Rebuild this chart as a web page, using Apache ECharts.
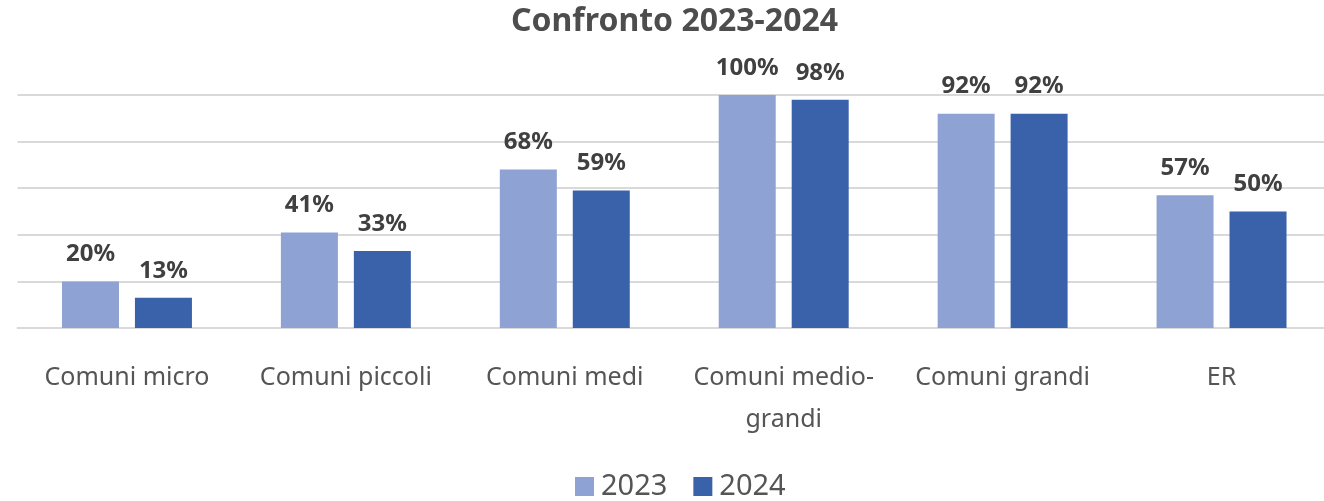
<!DOCTYPE html>
<html><head><meta charset="utf-8">
<script src="https://cdn.jsdelivr.net/npm/echarts@6/dist/echarts.min.js"></script>
<style>html,body{margin:0;padding:0;background:#fff}#c{width:1324px;height:501px}</style>
</head><body><div id="c"></div>
<script>
const categories = ['Comuni micro','Comuni piccoli','Comuni medi','Comuni medio-\ngrandi','Comuni grandi','ER'];
const values2023 = [20,41,68,100,92,57];
const values2024 = [13,33,59,98,92,50];
const seriesNames = ['2023','2024'];
const FONT = '"Noto Sans", "Open Sans", sans-serif';
const chart = echarts.init(document.getElementById('c'));
const lbl = {show:true, position:'top', distance:15, formatter:p=>p.value+'%', color:'#404040', fontSize:24, fontWeight:'bold', fontFamily:FONT};
chart.setOption({
  animation:false,
  title:{text:'Confronto 2023-2024', left:506, top:1, textStyle:{fontSize:32, fontWeight:'bold', color:'#4d4d4d', fontFamily:FONT}},
  legend:{bottom:-5, left:570, itemWidth:19, itemHeight:19, itemGap:26, icon:'rect',
    textStyle:{fontSize:29, color:'#555', fontFamily:FONT, padding:[0,0,0,2]}, data:seriesNames},
  grid:{left:17.5, right:-7, top:95, bottom:173, containLabel:false, outerBoundsMode:'none'},
  xAxis:{type:'category', data:categories,
    axisLine:{lineStyle:{color:'#d9d9d9', width:2}}, axisTick:{show:false},
    axisLabel:{fontSize:25, color:'#555', fontFamily:FONT, margin:29, lineHeight:42, interval:0}},
  yAxis:{type:'value', min:0, max:100, interval:20, axisLabel:{show:false}, axisLine:{show:false}, axisTick:{show:false},
    splitLine:{lineStyle:{color:'#d9d9d9', width:2}}},
  series:[
    {name:seriesNames[0], type:'bar', data:values2023, barWidth:57, barGap:'28%', itemStyle:{color:'#8ea2d3'}, label:lbl},
    {name:seriesNames[1], type:'bar', data:values2024, barWidth:57, itemStyle:{color:'#3a62ab'}, label:lbl}
  ]
});
</script></body></html>
